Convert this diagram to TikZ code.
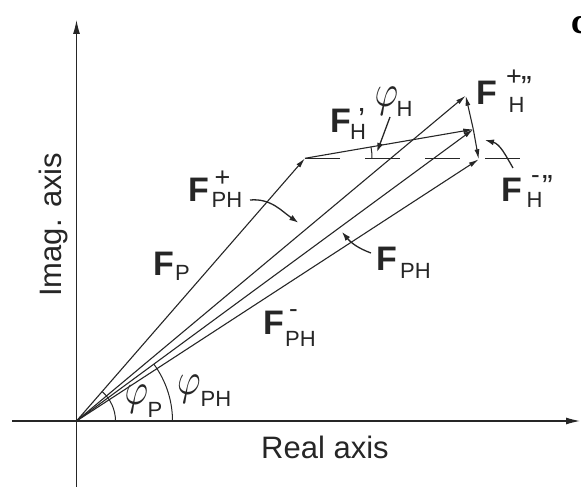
\documentclass[tikz,border=0pt]{standalone}
\usepackage{fontspec}
\usepackage{graphicx}
\setmainfont{Liberation Sans}
\newfontfamily\serifbold{Liberation Serif}
\usetikzlibrary{arrows.meta}
\tikzset{
  vec/.style={line width=1.1pt, draw=black!85, -{Latex[length=10pt,width=5pt]}},
  axisline/.style={line width=1.1pt, draw=black!85, -{Latex[length=14pt,width=7pt]}},
  ptr/.style={line width=1.3pt, draw=black!85, -{Latex[length=9pt,width=6pt]}},
  anglearc/.style={line width=1pt, draw=black!85},
  bigF/.style={inner sep=0pt, anchor=base west, font=\fontsize{34}{40}\selectfont\bfseries, text=black!85},
  sub/.style={inner sep=0pt, anchor=base west, font=\fontsize{22}{26}\selectfont, text=black!85},
  supc/.style={inner sep=0pt, anchor=center, font=\fontsize{27}{30}\selectfont, text=black!85},
  supm/.style={inner sep=0pt, anchor=base west, font=\fontsize{26}{30}\selectfont, text=black!85},
  supq/.style={inner sep=0pt, anchor=base west, font=\fontsize{32}{36}\selectfont, text=black!85},
  phisym/.style={inner sep=0pt, anchor=center, text=black!85},
  axlbl/.style={inner sep=0pt, anchor=base west, font=\fontsize{31}{36}\selectfont, text=black!85},
}
\newcommand{\myphi}{\scalebox{3.6}[4.5]{$\varphi$}}
\begin{document}
\begin{tikzpicture}[x=1pt,y=1pt]
\useasboundingbox (0,0) rectangle (581,487);
% points
\coordinate (O) at (76.5,66);
\coordinate (A) at (305,328.7);
\coordinate (B) at (465.7,391.3);
\coordinate (C) at (473.3,357.7);
\coordinate (D) at (478.7,327.7);
\coordinate (xl) at (12,66);
\coordinate (xr) at (580,66);
\coordinate (yb) at (76.5,0);
\coordinate (yt) at (76.5,467);
\coordinate (dashend) at (522,328.7);
% axes
\draw[axisline] (xl) -- (xr);
\draw[axisline] (yb) -- (yt);
% vectors
\draw[vec] (O) -- (A);
\draw[vec] (O) -- (B);
\draw[vec] (O) -- (C);
\draw[vec] (O) -- (D);
\draw[vec] (A) -- (C);
\draw[vec] (C) -- (B);
\draw[vec] (C) -- (D);
% dashed horizontal
\draw[line width=1.1pt, draw=black!85, dash pattern=on 35pt off 25pt] (A) -- (dashend);
% angle arcs
\draw[anglearc] (O) ++(39,0) arc[start angle=0, end angle=48.96, radius=39];
\draw[anglearc] (O) ++(96,0) arc[start angle=0, end angle=36.3, radius=96];
\draw[anglearc] (A) ++(67,0) arc[start angle=0, end angle=9.8, radius=67];
% pointers
\coordinate (phHs) at (390,370);
\coordinate (phHe) at (377,335);
\draw[ptr] (phHs) -- (phHe);
\coordinate (pPHps) at (250,287);
\coordinate (pPHpe) at (298.3,264.3);
\draw[ptr] (pPHps) to[out=5,in=145] (pPHpe);
\coordinate (pPHs) at (371,234);
\coordinate (pPHe) at (342,255);
\draw[ptr] (pPHs) to[out=160,in=-50] (pPHe);
\coordinate (pHms) at (513,319);
\coordinate (pHme) at (485,347);
\draw[ptr] (pHms) to[out=120,in=-15] (pHme);
% labels
\node[bigF] (FHp) at (330,354) {F};
\node[supq] (FHpp) at (358,356.3) {’};
\node[sub] (FHps) at (350,347) {H};
\node[phisym] (phH) at (386.5,385.5) {\myphi};
\node[sub] (phHs2) at (396.5,370) {H};
\node[bigF] (FHplus) at (476,382) {F};
\node[supc] (FHplusa) at (514,409.5) {+};
\node[supq] (FHplusb) at (521,388.3) {”};
\node[sub] (FHpluss) at (508.5,374) {H};
\node[bigF] (FHmin) at (501,285) {F};
\node[supm] (FHmina) at (531,303) {-};
\node[supq] (FHminb) at (542,289.3) {”};
\node[sub] (FHmins) at (526.5,279) {H};
\node[bigF] (FPHplus) at (188,285) {F};
\node[supc] (FPHplusa) at (222.5,308.5) {+};
\node[sub] (FPHpluss) at (211.5,279) {PH};
\node[bigF] (FP) at (153,211.3) {F};
\node[sub] (FPs) at (175,206) {P};
\node[bigF] (FPH) at (376,216) {F};
\node[sub] (FPHs) at (400,208) {PH};
\node[bigF] (FPHmin) at (263,152) {F};
\node[supm] (FPHmina) at (289,169.3) {-};
\node[sub] (FPHmins) at (285,140) {PH};
\node[phisym] (phP) at (136.3,88) {\myphi};
\node[sub] (phPs) at (147.5,69.7) {P};
\node[phisym] (phPH) at (189,98) {\myphi};
\node[sub] (phPHs) at (200.5,80) {PH};
\node[axlbl] (real) at (261,28) {Real axis};
\node[axlbl, rotate=90] (imag) at (61,190) {Imag. axis};
\node[inner sep=0pt, anchor=base west, font=\serifbold\fontsize{36}{40}\selectfont\bfseries] (panel) at (571,453.7) {c};
\end{tikzpicture}
\end{document}
